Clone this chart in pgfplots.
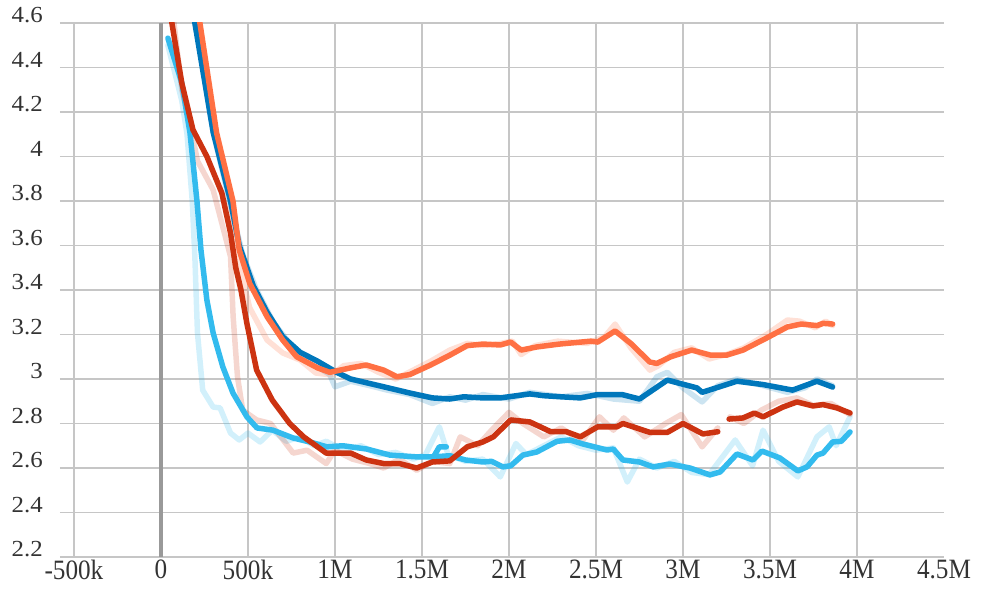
\documentclass[border=0pt]{standalone}
\usepackage{fontspec}
\usepackage{pgfplots}
\pgfplotsset{compat=1.18}
\setmainfont{Liberation Serif}
\newfontfamily\yfont[FakeStretch=1.08]{Liberation Serif}
\newfontfamily\xfont[FakeStretch=0.9]{Liberation Serif}
\definecolor{cblue}{HTML}{0077BB}
\definecolor{ccyan}{HTML}{33BBEE}
\definecolor{corange}{HTML}{FF7043}
\definecolor{cred}{HTML}{CC3311}
\definecolor{gridc}{HTML}{C6C6C6}
\definecolor{zeroc}{HTML}{999999}
\definecolor{labc}{HTML}{333333}
\begin{document}
\begin{tikzpicture}
\begin{axis}[
  name=ax,
  scale only axis,
  width=884pt, height=534pt,
  xmin=-0.58, xmax=4.5, ymin=2.2, ymax=4.6,
  axis line style={draw=none},
  xtick={-0.5,0,0.5,1,1.5,2,2.5,3,3.5,4},
  xticklabels={-500k,0,500k,1M,1.5M,2M,2.5M,3M,3.5M,4M},
  extra x ticks={4.5}, extra x tick labels={4.5M},
  extra x tick style={grid=none},
  ytick={2.2,2.4,2.6,2.8,3,3.2,3.4,3.6,3.8,4,4.2,4.4,4.6},
  yticklabels={2.2,2.4,2.6,2.8,3,3.2,3.4,3.6,3.8,4,4.2,4.4,4.6},
  major tick length=0pt,
  grid=major,
  major grid style={draw=gridc, line width=1.9pt},
  xticklabel style={font=\xfont\fontsize{28}{28}\selectfont, text=labc, anchor=north, inner sep=0pt, yshift=-3pt},
  yticklabel style={font=\yfont\fontsize{23}{23}\selectfont, text=labc, anchor=base east, inner sep=0pt, xshift=-17pt},
  /pgf/number format/assume math mode=true,
  every axis plot/.append style={line width=5.5pt, line join=round, line cap=round},
]
\addplot[zeroc, line width=3.8pt, line cap=butt] coordinates {(0,2.2) (0,4.6)};
% ---------- raw (faint) ----------
\addplot[cblue, opacity=0.2] coordinates {
(0.17,4.75)(0.30,4.11)(0.40,3.78)(0.47,3.56)(0.55,3.40)(0.65,3.25)(0.75,3.15)(0.85,3.08)(0.97,3.02)(1.00,2.965)(1.09,2.99)(1.2,2.97)(1.3,2.95)(1.43,2.93)(1.56,2.89)(1.66,2.92)(1.75,2.905)(1.85,2.93)(2.0,2.91)(2.12,2.94)(2.3,2.92)(2.45,2.935)(2.6,2.91)(2.75,2.90)(2.85,3.01)(2.91,3.03)(3.0,2.96)(3.11,2.897)(3.2,2.97)(3.31,3.00)(3.46,2.97)(3.6,2.94)(3.7,2.96)(3.77,3.00)(3.86,2.97)};
\addplot[ccyan, opacity=0.22] coordinates {
(0.04,4.50)(0.12,4.25)(0.15,4.10)(0.18,3.80)(0.195,3.55)(0.21,3.207)(0.24,2.95)(0.30,2.874)(0.34,2.87)(0.40,2.757)(0.45,2.726)(0.50,2.757)(0.57,2.717)(0.64,2.77)(0.72,2.72)(0.80,2.74)(0.88,2.70)(0.95,2.72)(1.05,2.68)(1.15,2.70)(1.25,2.66)(1.35,2.67)(1.45,2.64)(1.52,2.66)(1.60,2.785)(1.65,2.66)(1.75,2.63)(1.85,2.64)(1.95,2.56)(2.04,2.71)(2.10,2.66)(2.2,2.70)(2.3,2.74)(2.4,2.70)(2.5,2.68)(2.6,2.69)(2.68,2.537)(2.75,2.64)(2.85,2.60)(2.95,2.63)(3.05,2.58)(3.15,2.57)(3.3,2.726)(3.4,2.61)(3.46,2.77)(3.55,2.63)(3.66,2.56)(3.77,2.74)(3.84,2.785)(3.88,2.70)(3.96,2.83)};
\addplot[cred, opacity=0.2] coordinates {
(0.06,4.70)(0.12,4.30)(0.18,4.10)(0.21,3.98)(0.30,3.85)(0.35,3.70)(0.40,3.55)(0.415,3.28)(0.44,3.01)(0.47,2.86)(0.55,2.816)(0.63,2.80)(0.76,2.667)(0.84,2.68)(0.95,2.62)(1.0,2.68)(1.1,2.64)(1.2,2.62)(1.28,2.60)(1.37,2.64)(1.47,2.59)(1.56,2.63)(1.66,2.62)(1.72,2.74)(1.82,2.70)(1.9,2.77)(2.0,2.85)(2.08,2.80)(2.2,2.74)(2.3,2.78)(2.42,2.72)(2.52,2.83)(2.6,2.77)(2.66,2.825)(2.78,2.74)(2.9,2.80)(2.99,2.84)(3.11,2.695)(3.2,2.78)};
\addplot[cred, opacity=0.2] coordinates {
(3.27,2.83)(3.35,2.80)(3.45,2.86)(3.55,2.90)(3.655,2.915)(3.75,2.88)(3.85,2.89)(3.96,2.84)};
\addplot[corange, opacity=0.22] coordinates {
(0.20,4.65)(0.30,4.15)(0.40,3.80)(0.44,3.55)(0.51,3.32)(0.61,3.175)(0.70,3.117)(0.80,3.085)(0.89,3.027)(0.98,3.018)(1.05,3.06)(1.15,3.07)(1.25,3.03)(1.35,3.00)(1.45,3.04)(1.55,3.08)(1.66,3.13)(1.76,3.16)(1.85,3.15)(1.95,3.16)(2.02,3.17)(2.07,3.11)(2.15,3.15)(2.28,3.17)(2.45,3.16)(2.55,3.19)(2.61,3.247)(2.70,3.14)(2.81,3.04)(2.86,3.06)(2.95,3.12)(3.05,3.14)(3.15,3.09)(3.25,3.11)(3.35,3.14)(3.48,3.20)(3.60,3.265)(3.67,3.26)(3.76,3.23)(3.82,3.26)(3.86,3.24)};
% ---------- smoothed ----------
\addplot[cblue] coordinates {
(0.17,4.75)(0.195,4.60)(0.30,4.11)(0.40,3.80)(0.45,3.60)(0.53,3.42)(0.61,3.30)(0.70,3.19)(0.80,3.12)(0.90,3.08)(1.01,3.03)(1.09,3.00)(1.28,2.965)(1.43,2.937)(1.56,2.915)(1.66,2.91)(1.74,2.92)(1.85,2.915)(1.95,2.915)(2.12,2.933)(2.2,2.925)(2.3,2.92)(2.41,2.915)(2.51,2.93)(2.65,2.93)(2.75,2.91)(2.91,2.995)(3.08,2.96)(3.11,2.94)(3.31,2.99)(3.46,2.975)(3.63,2.95)(3.77,2.99)(3.86,2.964)};
\addplot[ccyan] coordinates {
(0.04,4.532)(0.12,4.33)(0.167,4.106)(0.207,3.80)(0.23,3.58)(0.264,3.355)(0.30,3.207)(0.356,3.054)(0.414,2.937)(0.494,2.83)(0.552,2.78)(0.644,2.77)(0.759,2.735)(0.856,2.717)(0.954,2.695)(1.046,2.70)(1.184,2.685)(1.316,2.658)(1.47,2.65)(1.56,2.65)(1.66,2.655)(1.75,2.636)(1.85,2.627)(1.90,2.63)(1.965,2.605)(2.01,2.61)(2.08,2.658)(2.16,2.672)(2.276,2.72)(2.35,2.726)(2.425,2.708)(2.563,2.681)(2.60,2.685)(2.655,2.636)(2.75,2.627)(2.828,2.605)(2.925,2.618)(3.04,2.60)(3.155,2.569)(3.213,2.582)(3.31,2.663)(3.402,2.636)(3.454,2.676)(3.557,2.645)(3.66,2.587)(3.713,2.605)(3.77,2.658)(3.805,2.667)(3.86,2.717)(3.91,2.72)(3.96,2.762)};
\addplot[ccyan] coordinates {(1.563,2.645)(1.60,2.695)(1.64,2.695)};
\addplot[cred] coordinates {
(0.055,4.65)(0.063,4.60)(0.12,4.33)(0.184,4.12)(0.264,4.00)(0.35,3.836)(0.40,3.656)(0.43,3.50)(0.46,3.40)(0.494,3.25)(0.55,3.04)(0.64,2.905)(0.74,2.80)(0.82,2.74)(0.95,2.667)(1.09,2.667)(1.18,2.636)(1.28,2.62)(1.37,2.62)(1.47,2.60)(1.56,2.627)(1.66,2.632)(1.76,2.695)(1.85,2.717)(1.91,2.74)(2.01,2.816)(2.12,2.807)(2.24,2.763)(2.33,2.763)(2.41,2.74)(2.51,2.785)(2.62,2.785)(2.655,2.80)(2.81,2.76)(2.91,2.76)(3.00,2.80)(3.115,2.753)(3.20,2.763)};
\addplot[cred] coordinates {
(3.265,2.82)(3.345,2.825)(3.41,2.847)(3.46,2.83)(3.575,2.874)(3.655,2.897)(3.747,2.879)(3.805,2.885)(3.885,2.87)(3.96,2.847)};
\addplot[corange] coordinates {
(0.17,4.85)(0.224,4.60)(0.32,4.106)(0.414,3.80)(0.45,3.58)(0.51,3.43)(0.61,3.28)(0.70,3.175)(0.78,3.10)(0.90,3.05)(0.97,3.03)(1.09,3.05)(1.18,3.063)(1.28,3.04)(1.356,3.01)(1.43,3.02)(1.55,3.063)(1.66,3.107)(1.76,3.15)(1.85,3.157)(1.95,3.153)(2.01,3.166)(2.07,3.13)(2.16,3.144)(2.29,3.157)(2.47,3.17)(2.51,3.166)(2.61,3.216)(2.70,3.16)(2.81,3.076)(2.85,3.07)(2.93,3.10)(3.05,3.13)(3.16,3.107)(3.25,3.107)(3.345,3.13)(3.48,3.184)(3.60,3.234)(3.68,3.247)(3.77,3.24)(3.805,3.25)(3.86,3.247)};
\end{axis}
\pgfresetboundingbox
\path[use as bounding box] ([xshift=-60pt,yshift=-32pt]ax.south west) rectangle ([xshift=37pt,yshift=23pt]ax.north east);
\end{tikzpicture}
\end{document}
